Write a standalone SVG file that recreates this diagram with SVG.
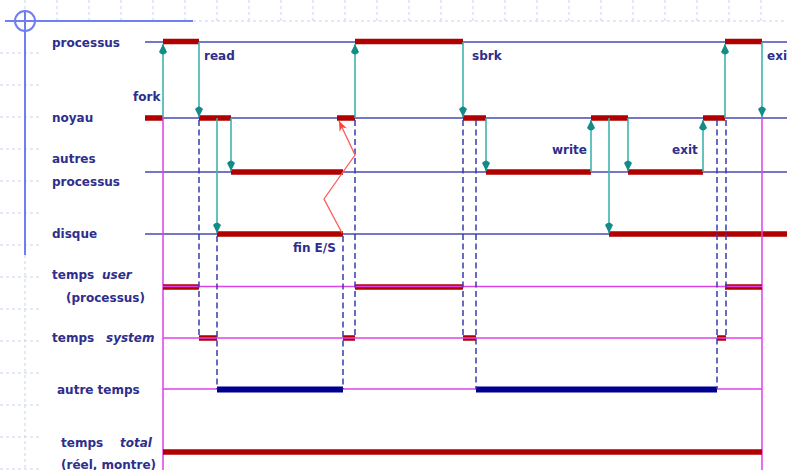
<svg xmlns="http://www.w3.org/2000/svg" width="787" height="470" viewBox="0 0 787 470">
<style>
.grid{stroke:#c9d3f3;stroke-width:1;stroke-dasharray:3 3;fill:none}
.frame{stroke:#6f7ff0;stroke-width:2;fill:none}
.row{stroke:#4848b0;stroke-width:1.3}
.mag{stroke:#e040e8;stroke-width:1.5;fill:none}
.bar{stroke:#b00000;stroke-width:5.5}
.bbar{stroke:#000090;stroke-width:6}
.dash{stroke:#3a3ab0;stroke-width:1.5;stroke-dasharray:6 3.5;fill:none}
.arr{stroke:#3fb3ad;stroke-width:1.6;fill:none;marker-end:url(#ah)}
.zig{stroke:#ff5a5a;stroke-width:1.3;fill:none;marker-end:url(#rh)}
text{font-family:"DejaVu Sans","Liberation Sans",sans-serif;font-weight:bold;font-size:12px;fill:#2e2e8c}
.it{font-style:italic}
</style>
<defs>
<marker id="ah" markerUnits="userSpaceOnUse" markerWidth="16" markerHeight="10" viewBox="-14 -5 16 10" refX="0" refY="0" orient="auto">
<path d="M0,0 L-8,-4 Q-13,0 -8,4 Z" fill="#138c88"/>
</marker>
<marker id="rh" markerUnits="userSpaceOnUse" markerWidth="14" markerHeight="10" viewBox="-12 -5 14 10" refX="0" refY="0" orient="auto">
<path d="M0,0 L-10,-4 L-7,0 L-10,4 Z" fill="#ff4040"/>
</marker>
</defs>
<rect width="787" height="470" fill="#ffffff"/>
<g id="grid">
<path class="grid" d="M25,0V21M57,0V21M89,0V21M121,0V21M153,0V21M185,0V21M217,0V21M249,0V21M281,0V21M313,0V21M345,0V21M377,0V21M409,0V21M441,0V21M473,0V21M505,0V21M537,0V21M569,0V21M601,0V21M633,0V21M665,0V21M697,0V21M729,0V21M761,0V21"/>
<path class="grid" d="M193,21H787"/>
<path class="grid" d="M0,53H40M0,85H40M0,117H40M0,149H40M0,181H40M0,213H40M0,245H40M0,277H40M0,309H40M0,341H40M0,373H40M0,405H40M0,437H40M0,469H40"/>
<path class="grid" d="M25,255V470"/>
</g>
<g id="frame">
<path class="frame" d="M5,21H193M25,10V255"/>
<circle class="frame" cx="25" cy="21" r="10" stroke-width="1.5"/>
</g>
<g id="row-processus">
<text x="52" y="47">processus</text>
<line class="row" x1="145" y1="42" x2="787" y2="42"/>
<path class="bar" d="M163,41.5H199M355,41.5H463M725,41.5H762"/>
</g>
<g id="row-noyau">
<text x="52" y="122">noyau</text>
<line class="row" x1="145" y1="118" x2="787" y2="118"/>
<path class="bar" d="M145,118H163M199,118H231M337,118H355M463,118H486M591,118H628M703,118H725"/>
</g>
<g id="row-autres">
<text x="52" y="163">autres</text>
<text x="52" y="186">processus</text>
<line class="row" x1="145" y1="172" x2="787" y2="172"/>
<path class="bar" d="M231,172H343M486,172H591M628,172H703"/>
</g>
<g id="row-disque">
<text x="52" y="238">disque</text>
<line class="row" x1="145" y1="234" x2="787" y2="234"/>
<path class="bar" d="M217,234H343M609,234H787"/>
</g>
<g id="axes">
<path class="mag" d="M163,118V470M762,118V470"/>
</g>
<g id="row-user">
<text x="52" y="279">temps <tspan class="it" x="102">user</tspan></text>
<text x="66" y="302">(processus)</text>
<path class="bar" d="M163,287H199M355,287H463M725,287H762"/>
<line class="mag" x1="163" y1="286.5" x2="762" y2="286.5"/>
</g>
<g id="row-system">
<text x="52" y="342">temps <tspan class="it" x="106">system</tspan></text>
<path class="bar" d="M199,338H217M343,338H355M463,338H476M717,338H726"/>
<line class="mag" x1="163" y1="338" x2="762" y2="338"/>
</g>
<g id="row-autre">
<text x="57" y="394">autre temps</text>
<line class="mag" x1="163" y1="389" x2="762" y2="389"/>
<path class="bbar" d="M217,389.5H343M476,389.5H717"/>
</g>
<g id="row-total">
<text x="61" y="447">temps <tspan class="it" x="120">total</tspan></text>
<text x="61" y="469">(réel, montre)</text>
<path class="bar" d="M163,452H762"/>
</g>
<g id="connectors">
<path class="dash" d="M199,120V338M217,236V389M343,236V389M355,120V338M463,120V338M476,120V389M717,120V389M726,120V338"/>
<path class="arr" d="M163,118V44"/>
<path class="arr" d="M199,42V117"/>
<path class="arr" d="M217,118V233"/>
<path class="arr" d="M231,118V171"/>
<path class="arr" d="M355,118V44"/>
<path class="arr" d="M463,42V117"/>
<path class="arr" d="M486,118V171"/>
<path class="arr" d="M591,172V120"/>
<path class="arr" d="M609,118V233"/>
<path class="arr" d="M628,118V171"/>
<path class="arr" d="M703,172V120"/>
<path class="arr" d="M725,118V44"/>
<path class="arr" d="M762,42V117"/>
<polyline class="zig" points="342,233 324,199 343,172 355,155 339,121"/>
</g>
<g id="labels">
<text x="133" y="101">fork</text>
<text x="204" y="60">read</text>
<text x="472" y="60">sbrk</text>
<text x="552" y="154">write</text>
<text x="672" y="154">exit</text>
<text x="767" y="60">exit</text>
<text x="293" y="252">fin E/S</text>
</g>
</svg>
